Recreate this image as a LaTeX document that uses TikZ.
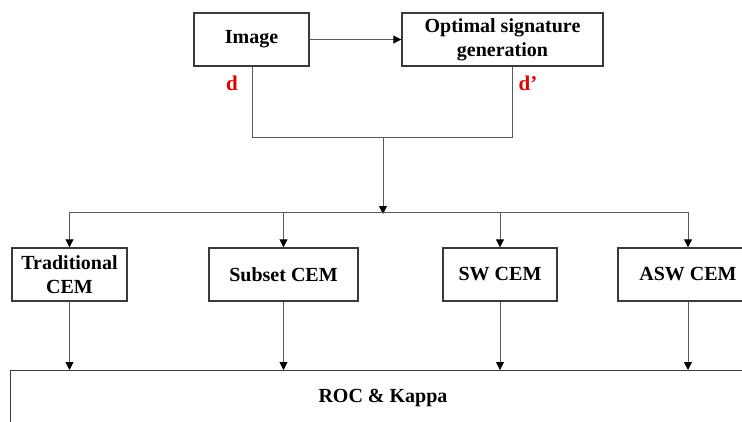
\documentclass[tikz,border=0pt]{standalone}
\usepackage{fontspec}
\setmainfont{Liberation Serif}
\usetikzlibrary{arrows.meta}
\definecolor{boxline}{HTML}{3A3A3A}
\definecolor{wire}{HTML}{5A5A5A}
\definecolor{lblred}{HTML}{E00000}
\tikzset{
  box/.style={draw=boxline, line width=1.4pt, fill=white, align=center,
    inner sep=0pt, font=\fontsize{20}{24}\selectfont\bfseries},
  wire/.style={draw=wire, line width=0.9pt},
  feed/.style={wire, -{Triangle[length=8pt,width=8pt,color=black]}},
  lbl/.style={text=lblred, font=\fontsize{21}{24}\selectfont\bfseries, inner sep=0pt},
}
\begin{document}
\begin{tikzpicture}[x=1pt, y=-1pt]
  \useasboundingbox (0,0) rectangle (742,421);
  \clip (0,0) rectangle (742,421);

  % top row
  \node[box, minimum width=115, minimum height=53] (img) at (251.5,39.5) {Image};
  \node[box, minimum width=201, minimum height=53] (opt) at (502.5,39.5)
    {Optimal signature\\generation};
  \draw[feed] (img.east) -- (opt.west);

  \node[lbl] (d) at (232,83) {d};
  \node[lbl] (dp) at (528,83) {d’};

  % merge of the two signatures
  \coordinate (jl) at (252,137);
  \coordinate (jr) at (512,137);
  \coordinate (jm) at (383,137);
  \coordinate (bus) at (383,212);
  \draw[wire] (img.south -| jl) -- (jl) -- (jr) -- (opt.south -| jr);

  % detector row
  \node[box, minimum width=115, minimum height=53] (trad) at (69.5,274.5)
    {Traditional\\CEM};
  \node[box, minimum width=149, minimum height=53] (sub) at (283.5,274.5) {Subset CEM};
  \node[box, minimum width=114, minimum height=53] (sw) at (500,274.5) {SW CEM};
  \node[box, minimum width=140, minimum height=53] (asw) at (688,274.5) {ASW CEM};

  \draw[feed] (jm) -- ([yshift=-2pt]bus);
  \draw[wire] (trad.north |- bus) -- (asw.north |- bus);
  \foreach \n in {trad,sub,sw,asw}
    \draw[feed] (\n.north |- bus) -- (\n.north);

  % evaluation
  \node[box, minimum width=800, minimum height=100, anchor=north west] (roc) at (10,370) {};
  \node[box, draw=none, fill=none] (roct) at (383,398) {ROC \& Kappa};
  \foreach \n in {trad,sub,sw,asw}
    \draw[feed] (\n.south) -- (\n.south |- roc.north);
\end{tikzpicture}
\end{document}
